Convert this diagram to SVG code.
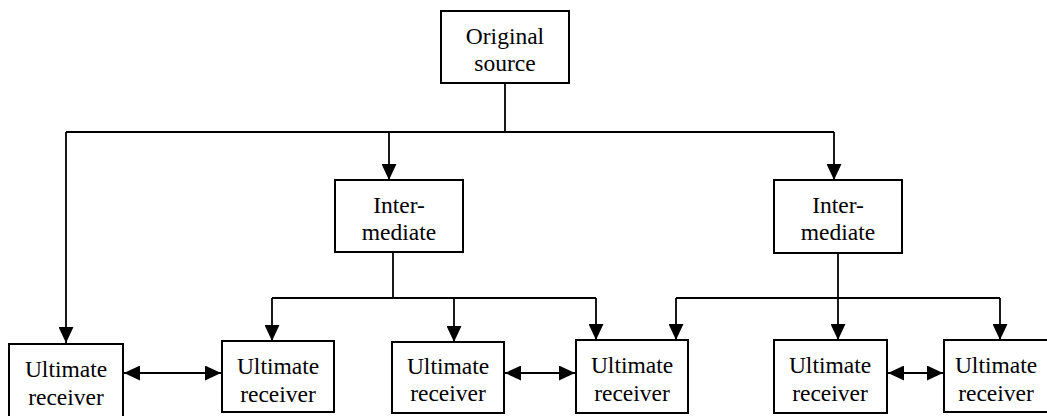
<svg xmlns="http://www.w3.org/2000/svg" width="1047" height="416" viewBox="0 0 1047 416">
<style>
.box{fill:#fff;stroke:#000;stroke-width:2}
.t{font-family:"Liberation Serif",serif;font-size:23.5px;fill:#000;text-anchor:middle}
.c{fill:none;stroke:#000;stroke-width:1.8}
</style>
<defs>
<marker id="ah" markerUnits="userSpaceOnUse" markerWidth="16" markerHeight="15" viewBox="0 0 15 14" refX="15" refY="7" orient="auto-start-reverse">
<path d="M0,0 L15,7 L0,14 Z" fill="#000"/>
</marker>
</defs>
<rect width="1047" height="416" fill="#fff"/>
<g id="connectors">
<path class="c" d="M505,83 V132"/>
<path class="c" d="M66,132 H834"/>
<path class="c" d="M66,132 V343" marker-end="url(#ah)"/>
<path class="c" d="M389,132 V180" marker-end="url(#ah)"/>
<path class="c" d="M834,132 V180" marker-end="url(#ah)"/>
<path class="c" d="M393,252 V298"/>
<path class="c" d="M272,298 H596"/>
<path class="c" d="M272,298 V341" marker-end="url(#ah)"/>
<path class="c" d="M454,298 V342" marker-end="url(#ah)"/>
<path class="c" d="M596,298 V340" marker-end="url(#ah)"/>
<path class="c" d="M838,253 V340" marker-end="url(#ah)"/>
<path class="c" d="M676,298 H1000"/>
<path class="c" d="M676,298 V340" marker-end="url(#ah)"/>
<path class="c" d="M1000,298 V340" marker-end="url(#ah)"/>
<path class="c" d="M124,373 H221" marker-start="url(#ah)" marker-end="url(#ah)"/>
<path class="c" d="M505,373 H575" marker-start="url(#ah)" marker-end="url(#ah)"/>
<path class="c" d="M888,373 H943" marker-start="url(#ah)" marker-end="url(#ah)"/>
</g>
<g id="source">
<rect class="box" x="441" y="11" width="128" height="72"/>
<text class="t" x="505" y="44">Original</text>
<text class="t" x="505" y="71">source</text>
</g>
<g id="intermediate1">
<rect class="box" x="335" y="180" width="128" height="72"/>
<text class="t" x="399" y="213">Inter-</text>
<text class="t" x="399" y="240">mediate</text>
</g>
<g id="intermediate2">
<rect class="box" x="774" y="180" width="128" height="73"/>
<text class="t" x="838" y="213">Inter-</text>
<text class="t" x="838" y="240">mediate</text>
</g>
<g id="receiver1">
<rect class="box" x="9" y="344" width="114" height="80"/>
<text class="t" x="66" y="377">Ultimate</text>
<text class="t" x="66" y="405">receiver</text>
</g>
<g id="receiver2">
<rect class="box" x="222" y="341" width="112" height="71"/>
<text class="t" x="278" y="374">Ultimate</text>
<text class="t" x="278" y="402">receiver</text>
</g>
<g id="receiver3">
<rect class="box" x="392" y="342" width="112" height="71"/>
<text class="t" x="448" y="374">Ultimate</text>
<text class="t" x="448" y="401">receiver</text>
</g>
<g id="receiver4">
<rect class="box" x="576" y="340" width="112" height="73"/>
<text class="t" x="632" y="373">Ultimate</text>
<text class="t" x="632" y="401">receiver</text>
</g>
<g id="receiver5">
<rect class="box" x="774" y="340" width="113" height="73"/>
<text class="t" x="830" y="373">Ultimate</text>
<text class="t" x="830" y="401">receiver</text>
</g>
<g id="receiver6">
<rect class="box" x="944" y="340" width="114" height="72"/>
<text class="t" x="996" y="373">Ultimate</text>
<text class="t" x="996" y="401">receiver</text>
</g>
</svg>
